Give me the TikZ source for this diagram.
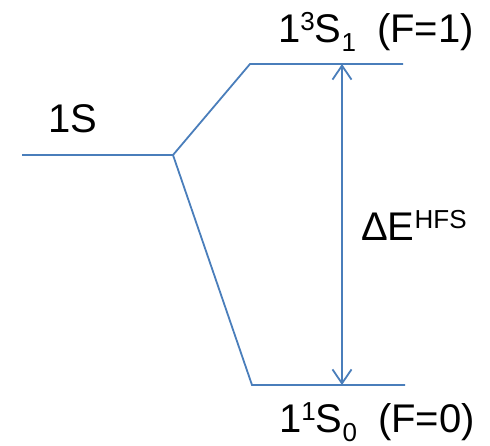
\documentclass[tikz,border=0pt]{standalone}
\usepackage{fontspec}
\setmainfont{Liberation Sans}
\usetikzlibrary{arrows.meta}
\definecolor{lvl}{RGB}{74,126,187}
% superscript and subscript in the style of a slide label
\newcommand{\upix}[1]{\raisebox{12pt}{\fontsize{26}{26}\selectfont #1}}
\newcommand{\dnix}[1]{\raisebox{-9pt}{\fontsize{26}{26}\selectfont #1}}
\begin{document}
\begin{tikzpicture}[x=1pt,y=-1pt,
  level/.style={draw=lvl,line width=1.8pt},
  gap/.style={draw=lvl,line width=1.8pt,{Straight Barb[length=14pt,width=19pt]}-{Straight Barb[length=14pt,width=19pt]}},
  lbl/.style={inner sep=0pt,anchor=base west,font=\fontsize{40}{48}\selectfont}]
\useasboundingbox (0,0) rectangle (490,445);
% unsplit 1S level and its split point
\coordinate (s0) at (22,155);
\coordinate (split) at (173,155);
% triplet level (F=1)
\coordinate (t0) at (250,64);
\coordinate (t1) at (403,64);
% singlet level (F=0)
\coordinate (u0) at (252,385);
\coordinate (u1) at (405,385);
\coordinate (ta) at (342,64);
\coordinate (ua) at (342,385);
\draw[level] (s0) -- (split);
\draw[level] (split) -- (t0) -- (t1);
\draw[level] (split) -- (u0) -- (u1);
\draw[gap] (ta) -- (ua);
\node[lbl] (l1s) at (48,132) {1S};
\node[lbl] (ltrip) at (278,42) {1\upix{3}S\dnix{1}\hspace{10pt} (F=1)};
\node[lbl] (lsing) at (279,432) {1\upix{1}S\dnix{0}\hspace{10pt} (F=0)};
\node[lbl] (lhfs) at (361,240) {ΔE\upix{HFS}};
\end{tikzpicture}
\end{document}
